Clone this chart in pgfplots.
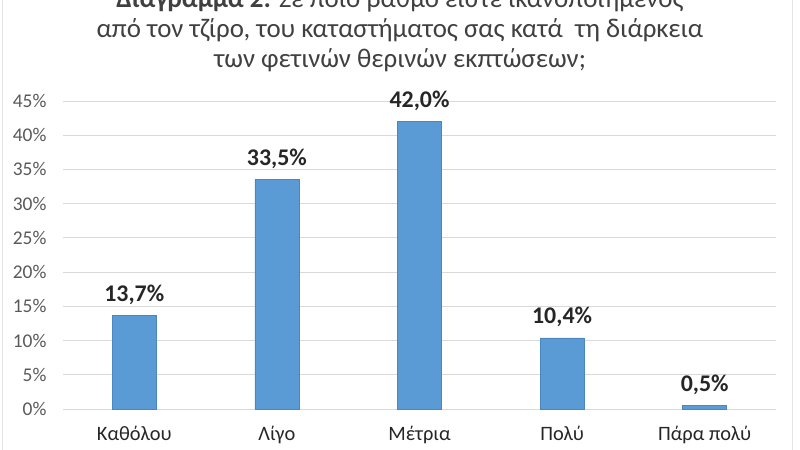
\documentclass[border=0pt]{standalone}
\usepackage{pgfplots}
\pgfplotsset{compat=1.18}
\usepackage{fontspec}
\setmainfont{Carlito}
\definecolor{barblue}{HTML}{5B9BD5}
\definecolor{bardark}{HTML}{4A86C0}
\definecolor{gridgray}{HTML}{D9D9D9}
\definecolor{ticktext}{HTML}{595959}
\definecolor{titletext}{HTML}{404040}
\definecolor{labeltext}{HTML}{262626}
\begin{document}
\begin{tikzpicture}[x=1bp,y=1bp]
\begin{axis}[
  name=ax,
  at={(0,0)}, anchor=south west,
  scale only axis, width=713bp, height=308bp,
  ymin=0, ymax=45, xmin=-0.5, xmax=4.5,
  ytick={0,5,...,45},
  yticklabel={\pgfmathprintnumber{\tick}\%},
  /pgf/number format/assume math mode=true,
  yticklabel style={text=ticktext, font=\fontsize{19.5}{22}\selectfont, xshift=-13bp},
  xtick=data,
  xticklabels={Καθόλου, Λίγο, Μέτρια, Πολύ, Πάρα πολύ},
  xticklabel style={text=labeltext, font=\fontsize{20.5}{24}\selectfont, yshift=-14bp},
  ymajorgrids, grid style={gridgray, line width=1bp},
  axis line style={draw=none},
  major tick length=0pt,
  ybar, bar width=44bp,
  nodes near coords={\pgfmathprintnumber[fixed, fixed zerofill, precision=1, use comma]{\pgfplotspointmeta}\%},
  nodes near coords style={text=labeltext, font=\bfseries\fontsize{24}{26}\selectfont, anchor=south, yshift=7bp},
  clip=false,
]
\addplot[fill=barblue, draw=bardark, line width=0.6bp] coordinates {(0,13.7) (1,33.5) (2,42.0) (3,10.4) (4,0.5)};
\end{axis}
\pgfresetboundingbox
\coordinate (O) at ([shift={(-63bp,-41bp)}]ax.south west);
\useasboundingbox (O) rectangle ([shift={(800bp,450bp)}]O);
\begin{scope}[shift={(O)}]
\clip (0,0) rectangle (800,450);
\draw[gridgray!70!white, line width=1bp] (2.5,0) -- (2.5,450);
\draw[gridgray!70!white, line width=1bp] (792,0) -- (792,450);
\node[text=titletext, font=\fontsize{27}{32}\selectfont, anchor=base] at (400,450+2-9)
  {\textbf{Διάγραμμα 2:} Σε ποιο βαθμό είστε  ικανοποιημένος};
\node[text=titletext, font=\fontsize{27}{32}\selectfont, anchor=base] at (400,450-28-9)
  {από τον τζίρο, του καταστήματος σας κατά\ \ τη διάρκεια};
\node[text=titletext, font=\fontsize{27}{32}\selectfont, anchor=base] at (400,450-58-9)
  {των φετινών θερινών εκπτώσεων;};
\end{scope}
\end{tikzpicture}
\end{document}
